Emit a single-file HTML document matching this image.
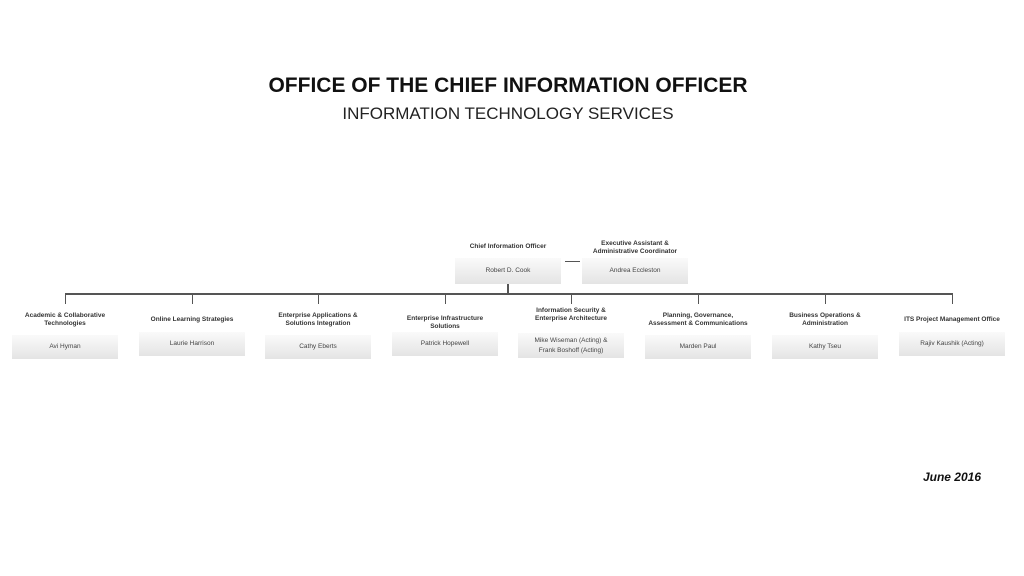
<!DOCTYPE html>
<html><head><meta charset="utf-8"><style>
body{margin:0;width:1024px;height:576px;background:#fff;position:relative;overflow:hidden;font-family:"Liberation Sans",sans-serif;color:#222}
.a{position:absolute}
.t{position:absolute;text-align:center;font-size:6.5px;font-weight:bold;color:#333;line-height:8px;width:120px}
.b{position:absolute;width:106px;height:24px;background:linear-gradient(#fafafa,#e4e4e4);font-size:6.5px;color:#444;text-align:center;display:flex;align-items:center;justify-content:center;line-height:10px}
.l{position:absolute;background:#555}
</style></head><body>
<div class="a" style="left:0;width:1016px;top:74px;text-align:center;font-size:21px;font-weight:bold;color:#111">OFFICE OF THE CHIEF INFORMATION OFFICER</div>
<div class="a" style="left:0;width:1016px;top:104px;text-align:center;font-size:17px;color:#222">INFORMATION TECHNOLOGY SERVICES</div>

<div class="t" style="left:448px;top:243px">Chief Information Officer</div>
<div class="b" style="left:455px;top:258px;height:26px">Robert D. Cook</div>
<div class="t" style="left:575px;top:240px">Executive Assistant &amp;<br>Administrative Coordinator</div>
<div class="b" style="left:582px;top:258px;height:26px">Andrea Eccleston</div>
<div class="l" style="left:565px;top:261px;width:15px;height:1px"></div>
<div class="l" style="left:507px;top:284px;width:1.5px;height:10px"></div>
<div class="l" style="left:65px;top:293px;width:888px;height:1.5px"></div>

<div class="l" style="left:65px;top:293px;width:1px;height:11px"></div>
<div class="l" style="left:192px;top:293px;width:1px;height:11px"></div>
<div class="l" style="left:318px;top:293px;width:1px;height:11px"></div>
<div class="l" style="left:445px;top:293px;width:1px;height:11px"></div>
<div class="l" style="left:571px;top:293px;width:1px;height:11px"></div>
<div class="l" style="left:698px;top:293px;width:1px;height:11px"></div>
<div class="l" style="left:825px;top:293px;width:1px;height:11px"></div>
<div class="l" style="left:952px;top:293px;width:1px;height:11px"></div>

<div class="t" style="left:5px;top:312px">Academic &amp; Collaborative<br>Technologies</div>
<div class="b" style="left:12px;top:335px">Avi Hyman</div>
<div class="t" style="left:132px;top:316px">Online Learning Strategies</div>
<div class="b" style="left:139px;top:332px">Laurie Harrison</div>
<div class="t" style="left:258px;top:312px">Enterprise Applications &amp;<br>Solutions Integration</div>
<div class="b" style="left:265px;top:335px">Cathy Eberts</div>
<div class="t" style="left:385px;top:315px">Enterprise Infrastructure<br>Solutions</div>
<div class="b" style="left:392px;top:332px">Patrick Hopewell</div>
<div class="t" style="left:511px;top:307px">Information Security &amp;<br>Enterprise Architecture</div>
<div class="b" style="left:518px;top:333px;height:25px">Mike Wiseman (Acting) &amp;<br>Frank Boshoff (Acting)</div>
<div class="t" style="left:638px;top:312px">Planning, Governance,<br>Assessment &amp; Communications</div>
<div class="b" style="left:645px;top:335px">Marden Paul</div>
<div class="t" style="left:765px;top:312px">Business Operations &amp;<br>Administration</div>
<div class="b" style="left:772px;top:335px">Kathy Tseu</div>
<div class="t" style="left:892px;top:316px">ITS Project Management Office</div>
<div class="b" style="left:899px;top:332px">Rajiv Kaushik (Acting)</div>

<div class="a" style="left:900px;top:470px;width:81px;text-align:right;font-size:12px;font-weight:bold;font-style:italic;color:#111">June 2016</div>
</body></html>
